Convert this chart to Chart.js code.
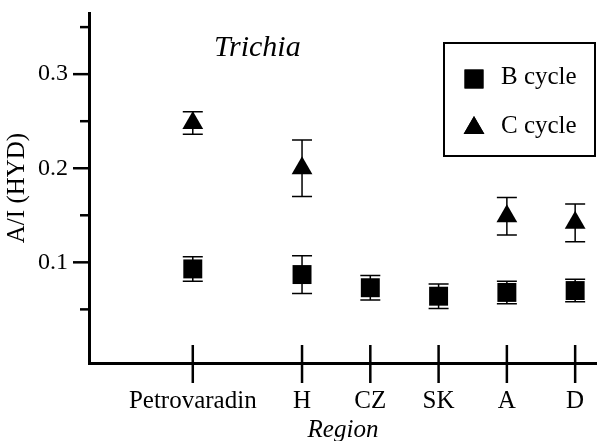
<!DOCTYPE html>
<html>
<head>
<meta charset="utf-8">
<script src="https://cdn.jsdelivr.net/npm/chart.js@4/dist/chart.umd.min.js"></script>
<style>
  body { margin: 0; background: #fff; }
  #wrap { width: 597px; height: 441px; }
</style>
</head>
<body>
<div id="wrap"><canvas id="chart" width="597" height="441"></canvas></div>
<script>
// Data
const regions = ['Petrovaradin', 'H', 'CZ', 'SK', 'A', 'D'];
const regionX = [0, 1.6, 2.6, 3.6, 4.6, 5.6];
const bCycle = [0.093, 0.087, 0.073, 0.064, 0.068, 0.070];
const bErr = [0.013, 0.020, 0.013, 0.013, 0.012, 0.012];
const cCycle = [0.248, 0.200, null, null, 0.149, 0.142];
const cErr = [0.012, 0.030, null, null, 0.020, 0.020];
const yMajorTicks = [0.1, 0.2, 0.3];
const yMinorTicks = [0.05, 0.15, 0.25, 0.35];

const serif = '"Liberation Serif", "DejaVu Serif", serif';

function toPoints(values, errs) {
    const pts = [];
    values.forEach((v, i) => {
        if (v !== null) pts.push({ x: regionX[i], y: v, err: errs[i] });
    });
    return pts;
}

// Error bars, axis tick marks, title and boxed legend
const decorations = {
    id: 'decorations',
    afterDatasetsDraw(chart) {
        const ctx = chart.ctx;
        const xs = chart.scales.x;
        const ys = chart.scales.y;
        const area = chart.chartArea;
        ctx.save();
        ctx.strokeStyle = '#000';

        // error bars
        ctx.lineWidth = 1.5;
        chart.data.datasets.forEach(ds => {
            ds.data.forEach(p => {
                const px = xs.getPixelForValue(p.x);
                const top = ys.getPixelForValue(p.y + p.err);
                const bot = ys.getPixelForValue(p.y - p.err);
                ctx.beginPath();
                ctx.moveTo(px, top); ctx.lineTo(px, bot);
                ctx.moveTo(px - 10, top); ctx.lineTo(px + 10, top);
                ctx.moveTo(px - 10, bot); ctx.lineTo(px + 10, bot);
                ctx.stroke();
            });
        });

        // y tick marks
        ctx.lineWidth = 2.5;
        yMajorTicks.forEach(v => {
            const py = ys.getPixelForValue(v);
            ctx.beginPath(); ctx.moveTo(area.left - 16, py); ctx.lineTo(area.left, py); ctx.stroke();
        });
        yMinorTicks.forEach(v => {
            const py = ys.getPixelForValue(v);
            ctx.beginPath(); ctx.moveTo(area.left - 9, py); ctx.lineTo(area.left, py); ctx.stroke();
        });
        // x tick marks crossing the axis
        regionX.forEach(v => {
            const px = xs.getPixelForValue(v);
            ctx.beginPath(); ctx.moveTo(px, area.bottom - 18); ctx.lineTo(px, area.bottom + 20); ctx.stroke();
        });

        // title
        ctx.fillStyle = '#000';
        ctx.font = 'italic 30px ' + serif;
        ctx.textAlign = 'left';
        ctx.textBaseline = 'middle';
        ctx.fillText('Trichia', 214, 48);

        // legend box
        ctx.lineWidth = 2;
        ctx.strokeRect(444, 43, 151, 113);
        const items = [
            { label: chart.data.datasets[0].label, style: 'rect', r: 13.4, y: 79 },
            { label: chart.data.datasets[1].label, style: 'triangle', r: 12, y: 128 }
        ];
        ctx.font = '25px ' + serif;
        items.forEach(it => {
            Chart.helpers.drawPoint(ctx, { pointStyle: it.style, radius: it.r, borderWidth: 0 }, 474, it.y);
            ctx.fillStyle = '#000';
            ctx.fill();
            ctx.fillText(it.label, 501, it.y - 2);
        });
        ctx.restore();
    }
};

new Chart(document.getElementById('chart'), {
    type: 'scatter',
    data: {
        datasets: [
            {
                label: 'B cycle',
                data: toPoints(bCycle, bErr),
                pointStyle: 'rect',
                pointRadius: 13.4,
                pointBackgroundColor: '#000',
                pointBorderWidth: 0
            },
            {
                label: 'C cycle',
                data: toPoints(cCycle, cErr),
                pointStyle: 'triangle',
                pointRadius: 12,
                pointBackgroundColor: '#000',
                pointBorderWidth: 0
            }
        ]
    },
    options: {
        responsive: false,
        animation: false,
        layout: { autoPadding: false, padding: { top: 13, right: 0, bottom: 0, left: 0 } },
        plugins: {
            legend: { display: false },
            tooltip: { enabled: false }
        },
        scales: {
            x: {
                type: 'linear',
                min: -1.52,
                max: 5.92,
                grid: { display: false, drawTicks: false },
                border: { display: true, color: '#000', width: 3 },
                afterBuildTicks: scale => { scale.ticks = regionX.map(v => ({ value: v })); },
                afterFit: scale => {
                    scale.height = 78;
                    scale.paddingLeft = 0;
                    scale.paddingRight = 0;
                },
                ticks: {
                    autoSkip: false,
                    maxRotation: 0,
                    padding: 23,
                    color: '#000',
                    font: { family: serif, size: 25 },
                    callback: (value, index) => regions[index]
                },
                title: {
                    display: true,
                    text: 'Region',
                    color: '#000',
                    font: { family: serif, size: 25, style: 'italic', lineHeight: 1 },
                    padding: { top: 0, bottom: -2 }
                }
            },
            y: {
                min: -0.007,
                max: 0.365,
                grid: { display: false, drawTicks: false },
                border: { display: true, color: '#000', width: 3 },
                afterBuildTicks: scale => { scale.ticks = yMajorTicks.map(v => ({ value: v })); },
                afterFit: scale => {
                    scale.width = 89;
                    scale.paddingTop = 0;
                    scale.paddingBottom = 0;
                },
                ticks: {
                    padding: 21,
                    color: '#000',
                    font: { family: serif, size: 24 },
                    callback: value => value.toFixed(1)
                },
                title: {
                    display: true,
                    text: 'A/I (HYD)',
                    color: '#000',
                    font: { family: serif, size: 25 },
                    padding: { top: 2, bottom: 2 }
                }
            }
        }
    },
    plugins: [decorations]
});
</script>
</body>
</html>
